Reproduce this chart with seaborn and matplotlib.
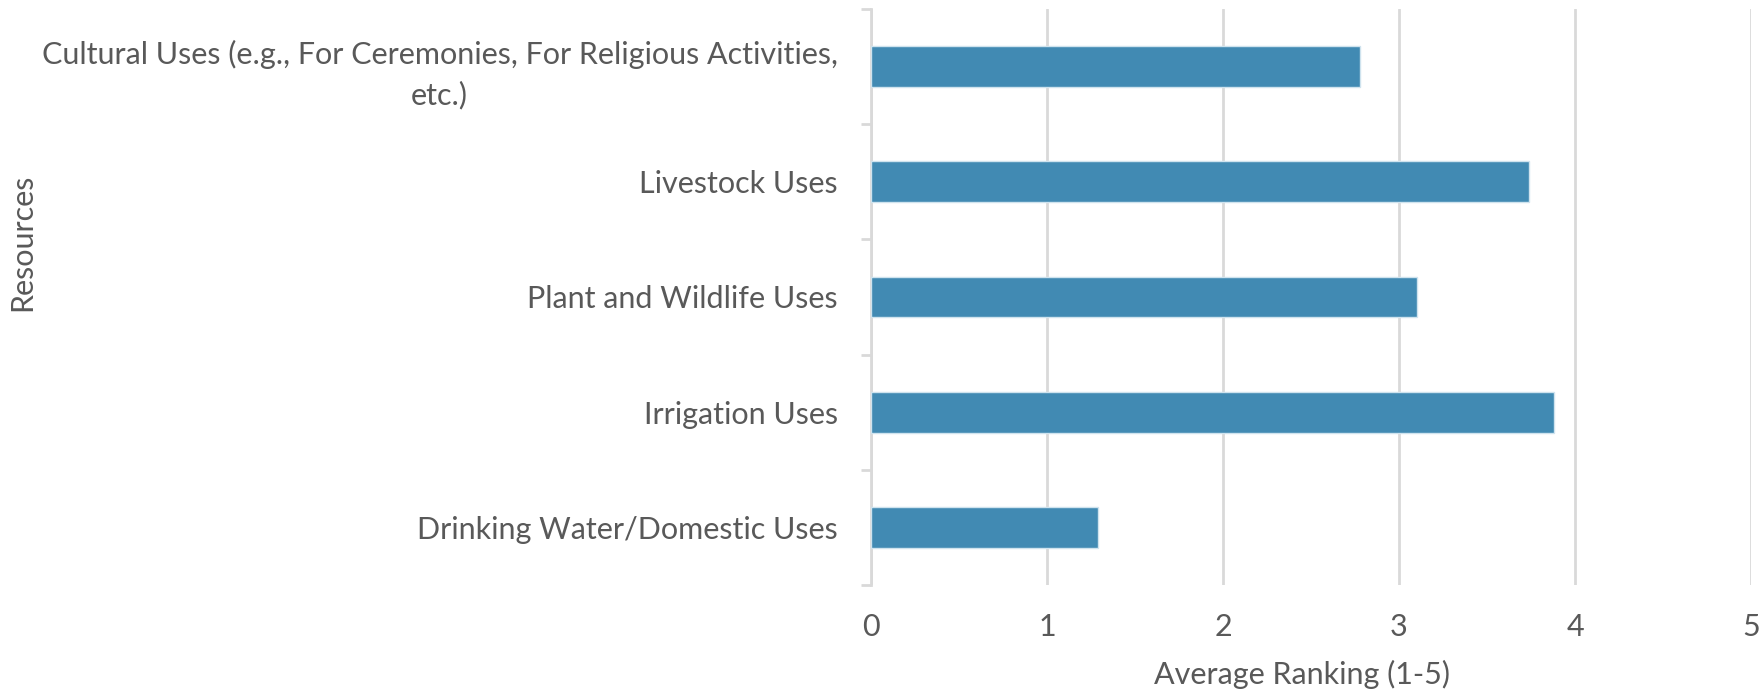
import matplotlib
matplotlib.use("Agg")
import matplotlib.pyplot as plt
import seaborn as sns
import pandas as pd
from matplotlib.ticker import FixedLocator

categories = [
    "Cultural Uses (e.g., For Ceremonies, For Religious Activities,\netc.)",
    "Livestock Uses",
    "Plant and Wildlife Uses",
    "Irrigation Uses",
    "Drinking Water/Domestic Uses",
]
values = [2.78, 3.74, 3.10, 3.88, 1.29]
xticks = [0, 1, 2, 3, 4, 5]

sns.set_theme(style="white")
plt.rcParams['font.family'] = ['Lato', 'DejaVu Sans']

TEXT = "#595959"
GRID = "#d9d9d9"
BAR = "#418ab3"
FS = 22

df = pd.DataFrame({"Resource": categories, "Rank": values})

fig = plt.figure(figsize=(17.62, 6.93), dpi=100)
ax = fig.add_axes([871/1762, 1-585/693, 880/1762, 576/693])

sns.barplot(data=df, x="Rank", y="Resource", orient="h", color=BAR,
            saturation=1, width=0.355, edgecolor="#cfe3ee", linewidth=1,
            ax=ax, zorder=3)

ax.set_xlim(0, 5)
ax.set_ylim(4.5, -0.5)
ax.set_xticks(xticks)
ax.set_xticklabels([str(t) for t in xticks])
ax.xaxis.grid(True, color=GRID, linewidth=2, zorder=0)
ax.yaxis.grid(False)
for s in ["top", "right", "bottom"]:
    ax.spines[s].set_visible(False)
ax.spines["left"].set_color(GRID)
ax.spines["left"].set_linewidth(2)

ax.tick_params(axis="x", length=0, pad=20, labelsize=FS, labelcolor=TEXT)
ax.tick_params(axis="y", which="major", length=0, pad=24, labelsize=FS, labelcolor=TEXT)
ax.yaxis.set_minor_locator(FixedLocator([-0.5, 0.5, 1.5, 2.5, 3.5, 4.5]))
ax.tick_params(axis="y", which="minor", length=7, width=2, color=GRID, left=True)
for lab in ax.get_yticklabels():
    lab.set_multialignment("center")
    lab.set_linespacing(1.5)

ax.set_xlabel("Average Ranking (1-5)", fontsize=FS, color=TEXT)
ax.xaxis.set_label_coords(0.49, -0.13)
ax.set_ylabel("Resources", fontsize=FS, color=TEXT)
ax.yaxis.set_label_coords((36-871)/880, 1 - (242-9)/576)

fig.savefig("out.png", dpi=100)
